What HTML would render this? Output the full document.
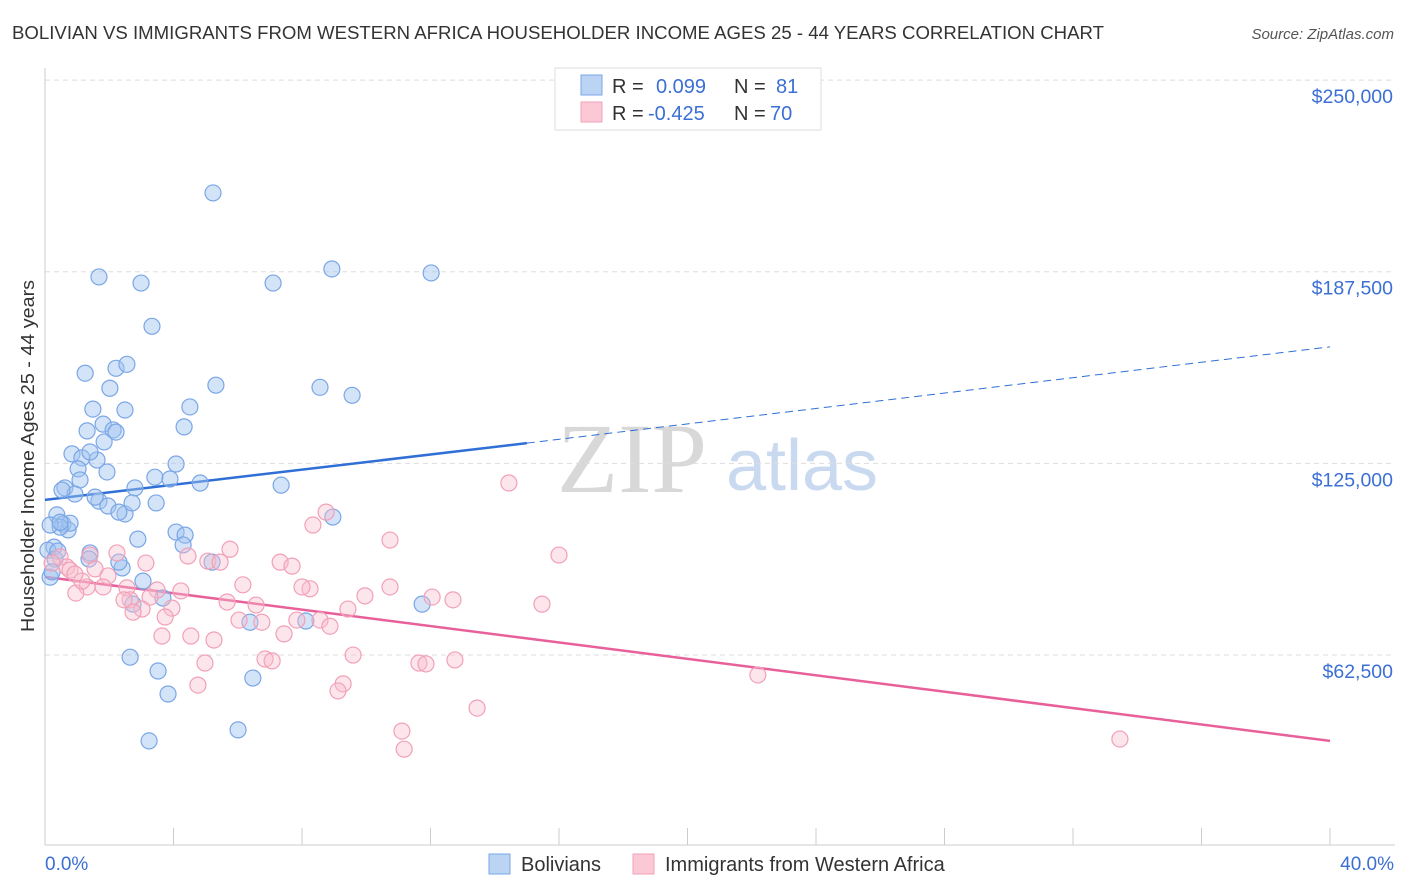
<!DOCTYPE html>
<html><head><meta charset="utf-8">
<style>
body{margin:0;background:#fff;font-family:"Liberation Sans",sans-serif;}
svg{display:block}
</style></head>
<body>
<svg id="chart" width="1406" height="892" xmlns="http://www.w3.org/2000/svg" font-family="Liberation Sans, sans-serif">
<text x="12" y="39" font-size="18" fill="#333" textLength="1092" lengthAdjust="spacingAndGlyphs">BOLIVIAN VS IMMIGRANTS FROM WESTERN AFRICA HOUSEHOLDER INCOME AGES 25 - 44 YEARS CORRELATION CHART</text>
<text x="1394" y="39" font-size="15" fill="#555" text-anchor="end" font-style="italic">Source: ZipAtlas.com</text>
<g>
<text x="632" y="492" font-size="100" fill="#d8d8d8" text-anchor="middle" font-family="Liberation Serif, serif">ZIP</text>
<text x="802" y="490" font-size="72" fill="#c9d9f0" text-anchor="middle">atlas</text>
</g>
<g id="grid"></g>
<g id="axes"></g>
<g id="lines"></g>
<g id="pts"></g>
<text transform="translate(34,456) rotate(-90)" font-size="18" fill="#333" text-anchor="middle" textLength="352" lengthAdjust="spacingAndGlyphs">Householder Income Ages 25 - 44 years</text>
<g>
<rect x="555" y="68" width="266" height="62" fill="#fff" stroke="#ddd"/>
<rect x="581" y="75" width="21" height="20" fill="#bcd4f4" stroke="#7aa6e6"/>
<rect x="581" y="102" width="21" height="20" fill="#fbc8d6" stroke="#f2a0b8"/>
<text x="612" y="93" font-size="20" fill="#333">R = </text><text x="656" y="93" font-size="20" fill="#3b6fd4">0.099</text>
<text x="734" y="93" font-size="20" fill="#333">N = </text><text x="776" y="93" font-size="20" fill="#3b6fd4">81</text>
<text x="612" y="120" font-size="20" fill="#333">R = </text><text x="648" y="120" font-size="20" fill="#3b6fd4">-0.425</text>
<text x="734" y="120" font-size="20" fill="#333">N = </text><text x="770" y="120" font-size="20" fill="#3b6fd4">70</text>
</g>
<g>
<rect x="489" y="854" width="21" height="20" fill="#bcd4f4" stroke="#7aa6e6"/>
<text x="521" y="871" font-size="20" fill="#333">Bolivians</text>
<rect x="633" y="854" width="21" height="20" fill="#fbc8d6" stroke="#f2a0b8"/>
<text x="665" y="871" font-size="20" fill="#333">Immigrants from Western Africa</text>
</g>
</svg>
<script>
const yTicks=[62500,125000,187500,250000];
const yTickLabels=["$62,500","$125,000","$187,500","$250,000"];
const xTicks=[0,4,8,12,16,20,24,28,32,36,40];
const bolX=[5.23,1.68,2.99,7.10,8.93,12.02,3.33,1.25,2.21,2.55,5.32,8.56,9.56,2.02,1.49,2.49,4.51,1.81,1.31,2.12,2.21,4.33,1.84,0.84,1.15,1.62,1.40,1.03,4.08,1.93,3.42,3.89,4.83,7.35,0.62,1.09,0.93,0.53,1.68,1.56,1.96,2.49,2.80,3.46,2.71,2.30,0.37,0.56,0.72,0.78,0.47,0.16,0.47,8.96,4.08,4.36,4.30,2.89,0.28,0.09,1.40,5.20,2.40,2.30,3.05,0.16,2.74,3.67,11.74,6.38,8.12,2.65,3.52,6.47,3.83,3.24,6.01,0.31,0.40,1.37,0.22];
const bolY=[213.2,185.8,183.8,183.8,188.4,187.1,169.7,154.4,156.0,157.3,150.5,149.8,147.2,149.5,142.7,142.4,143.4,137.8,135.6,135.9,135.2,136.9,132.0,128.1,126.8,126.1,128.7,123.2,124.8,122.2,120.5,119.9,118.6,117.9,117.0,119.6,115.0,116.3,112.7,114.0,111.1,108.5,117.0,112.1,112.1,109.1,108.2,105.2,103.3,105.5,104.2,104.9,105.8,107.5,102.6,101.6,98.4,100.3,97.7,96.7,95.8,92.8,90.9,92.8,86.6,87.9,79.1,81.1,79.1,73.2,73.6,61.8,57.3,55.0,49.8,34.5,38.1,93.8,96.4,93.8,89.6];
const wafX=[14.44,8.75,8.34,10.74,16.00,5.76,4.45,5.07,5.45,2.24,3.14,1.40,0.47,0.22,0.68,0.78,1.56,7.32,7.69,1.96,6.16,8.25,8.00,10.74,4.23,3.49,2.55,1.81,1.31,0.96,2.65,3.27,9.96,12.05,12.70,15.47,5.67,6.57,3.95,3.02,2.74,8.56,7.84,6.04,6.75,8.87,3.74,4.54,3.64,5.26,7.44,6.85,7.07,9.59,4.98,11.64,11.86,12.76,22.19,9.28,9.12,4.76,13.45,11.11,11.18,33.46,2.46,9.43,1.15,0.93];
const wafY=[118.6,109.1,104.9,100.0,95.1,97.0,94.8,93.1,92.8,95.8,92.5,95.1,94.5,92.5,91.2,90.2,90.6,92.8,91.5,88.3,85.4,84.1,84.7,84.7,83.4,83.7,84.4,84.7,84.7,82.7,80.5,81.4,81.8,81.4,80.5,79.1,79.8,78.8,77.8,77.5,76.5,73.9,73.9,73.9,73.2,71.9,74.9,68.7,68.7,67.4,69.4,61.2,60.6,62.5,59.9,59.9,59.6,60.9,56.0,53.1,50.8,52.7,45.2,37.7,31.8,35.1,80.5,77.5,86.6,88.9];
const bolTrend=[[0,113.1],[15.0,131.6],[40,163.0]];
const wafTrend=[[0,88.0],[40,34.5]];
const NS="http://www.w3.org/2000/svg";
const xs=v=>45+v*32.125;
const ys=v=>846.7-v/0.3261;
function mk(tag,attrs,parent){const e=document.createElementNS(NS,tag);for(const k in attrs)e.setAttribute(k,attrs[k]);parent.appendChild(e);return e;}
const grid=document.getElementById('grid'),axes=document.getElementById('axes'),lines=document.getElementById('lines'),pts=document.getElementById('pts');
yTicks.forEach((t,i)=>{const y=ys(t/1000);
 const l=mk('line',{x1:45,x2:1395,y1:y,y2:y,stroke:'#ddd','stroke-dasharray':'5,4'},grid);
 
 
 const tx=mk('text',{x:1393,y:y+23,'font-size':19.5,fill:'#3b6fd4','text-anchor':'end'},axes);
 tx.textContent=yTickLabels[i];
 
 
});
const la=mk('line',{x1:45,x2:45,y1:68,y2:845,stroke:'#ccc'},axes);


const ba=mk('line',{x1:45,x2:1395,y1:845,y2:845,stroke:'#ccc'},axes);


xTicks.forEach(t=>{const x=xs(t);const tk=mk('line',{x1:x,x2:x,y1:828,y2:845,stroke:'#ccc'},axes);
 
 });
const xl0=mk('text',{x:45,y:870,'font-size':19,fill:'#3b6fd4'},axes);xl0.textContent='0.0%';


const xl1=mk('text',{x:1394,y:870,'font-size':19,fill:'#3b6fd4','text-anchor':'end'},axes);xl1.textContent='40.0%';


for(let i=0;i<bolX.length;i++){const c=mk('circle',{cx:xs(bolX[i]),cy:ys(bolY[i]),r:8,fill:'rgba(160,196,240,0.45)',stroke:'#7aa6e6','stroke-width':1.2},pts);
 
 }
for(let i=0;i<wafX.length;i++){const c=mk('circle',{cx:xs(wafX[i]),cy:ys(wafY[i]),r:8,fill:'rgba(248,190,205,0.4)',stroke:'#f2a0b8','stroke-width':1.2},pts);
 
 }
const b1=mk('line',{x1:xs(bolTrend[0][0]),y1:ys(bolTrend[0][1]),x2:xs(bolTrend[1][0]),y2:ys(bolTrend[1][1]),stroke:'#2f6fd6','stroke-width':2.5},lines);


const b2=mk('line',{x1:xs(bolTrend[1][0]),y1:ys(bolTrend[1][1]),x2:xs(bolTrend[2][0]),y2:ys(bolTrend[2][1]),stroke:'#2f6fd6','stroke-width':1,'stroke-dasharray':'8,5'},lines);


const p1=mk('line',{x1:xs(wafTrend[0][0]),y1:ys(wafTrend[0][1]),x2:xs(wafTrend[1][0]),y2:ys(wafTrend[1][1]),stroke:'#e8609a','stroke-width':2.5},lines);


</script>
</body></html>
